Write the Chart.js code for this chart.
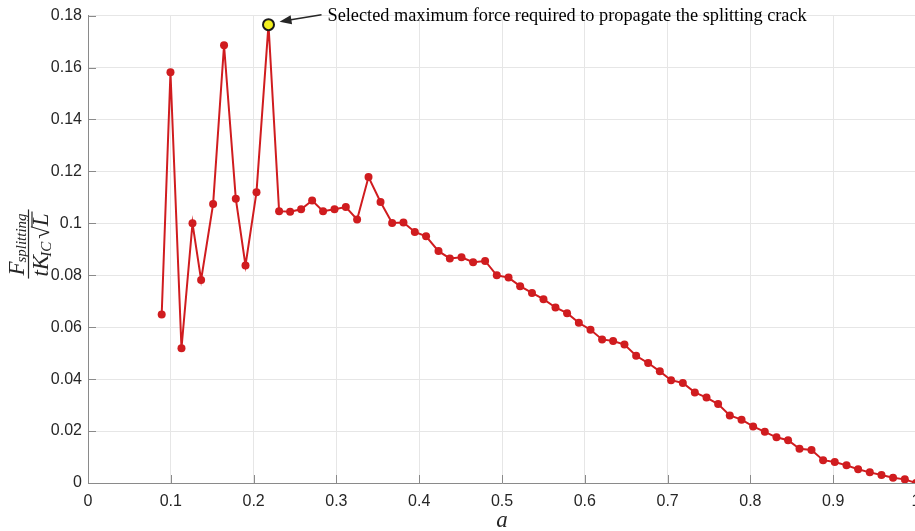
<!DOCTYPE html>
<html>
<head>
<meta charset="utf-8">
<script src="https://cdn.jsdelivr.net/npm/chart.js@4.4.1/dist/chart.umd.min.js"></script>
<style>
  html, body { margin: 0; padding: 0; background: #ffffff; overflow: hidden; }
  #grafico { display: block; }
</style>
</head>
<body>
<canvas id="grafico" width="930" height="531"></canvas>
<script>
// crack length ratio a
var aValues = [
    0.089, 0.0996, 0.1129, 0.1262, 0.1366, 0.1511, 0.1643, 0.1785, 0.1902, 0.2035,
    0.218, 0.2308, 0.2441, 0.2574, 0.2707, 0.2839, 0.2977, 0.3114, 0.325, 0.3388,
    0.3533, 0.3673, 0.381, 0.3947, 0.4083, 0.4233, 0.437, 0.4511, 0.4651, 0.4796,
    0.4937, 0.5079, 0.5219, 0.5362, 0.5501, 0.5646, 0.5786, 0.5928, 0.6069, 0.6209,
    0.6342, 0.6479, 0.662, 0.6765, 0.6906, 0.7042, 0.7184, 0.7329, 0.747, 0.761,
    0.7751, 0.7893, 0.8033, 0.8174, 0.8315, 0.8455, 0.8593, 0.8738, 0.8878, 0.9019,
    0.9161, 0.9301, 0.9442, 0.9583, 0.9723, 0.9865, 1.0
];

// normalised splitting force
var forceValues = [
    0.0649, 0.1582, 0.0519, 0.1000, 0.0782, 0.1074, 0.1686, 0.1095, 0.0838, 0.1120,
    0.1765, 0.1047, 0.1045, 0.1054, 0.1088, 0.1047, 0.1054, 0.1063, 0.1015, 0.1178,
    0.1082, 0.1001, 0.1003, 0.0967, 0.0950, 0.0893, 0.0865, 0.0869, 0.0850, 0.0855,
    0.0800, 0.0791, 0.0758, 0.0732, 0.0708, 0.0676, 0.0654, 0.0617, 0.0590, 0.0553,
    0.0547, 0.0533, 0.0490, 0.0462, 0.0430, 0.0396, 0.0385, 0.0349, 0.0329, 0.0304,
    0.0260, 0.0244, 0.0218, 0.0197, 0.0176, 0.0165, 0.0132, 0.0127, 0.0088, 0.0081,
    0.0068, 0.0053, 0.0041, 0.0031, 0.0020, 0.0014, 0.0000
];

var xTicks = [0, 0.1, 0.2, 0.3, 0.4, 0.5, 0.6, 0.7, 0.8, 0.9, 1];
var yTicks = [0, 0.02, 0.04, 0.06, 0.08, 0.1, 0.12, 0.14, 0.16, 0.18];

var annotationText = 'Selected maximum force required to propagate the splitting crack';
var xTitle = 'a';

var SERIF = '"Liberation Serif", "Times New Roman", serif';
var SANS = '"Liberation Sans", Arial, sans-serif';
var COR_EIXO = '#8a8a8a';
var COR_TEXTO = '#262626';

// index of the selected maximum
var idxMax = 0;
for (var i = 1; i < forceValues.length; i++) {
    if (forceValues[i] > forceValues[idxMax]) idxMax = i;
}

function formatarTick(v) {
    return String(parseFloat(Number(v).toFixed(3)));
}

var pluginExtras = {
    id: 'extras',
    afterDraw: function (chart) {
        var ctx = chart.ctx;
        var xs = chart.scales.x, ys = chart.scales.y;
        var area = chart.chartArea;

        // inward tick marks (matlab style)
        ctx.save();
        ctx.strokeStyle = COR_EIXO;
        ctx.lineWidth = 1;
        ctx.beginPath();
        xTicks.forEach(function (v) {
            var px = Math.round(xs.getPixelForValue(v)) + 0.5;
            ctx.moveTo(px, area.bottom);
            ctx.lineTo(px, area.bottom - 8);
        });
        yTicks.forEach(function (v) {
            var py = Math.round(ys.getPixelForValue(v)) + 0.5;
            ctx.moveTo(area.left, py);
            ctx.lineTo(area.left + 8, py);
        });
        ctx.stroke();
        ctx.restore();

        // arrow + annotation
        var mx = xs.getPixelForValue(aValues[idxMax]);
        var my = ys.getPixelForValue(forceValues[idxMax]);
        var hx = mx + 11, hy = my - 3;
        var tx = hx + 42, ty = hy - 7;
        ctx.save();
        ctx.strokeStyle = COR_TEXTO;
        ctx.fillStyle = COR_TEXTO;
        ctx.lineWidth = 1.5;
        var ang = Math.atan2(hy - ty, hx - tx);
        ctx.beginPath();
        ctx.moveTo(tx, ty);
        ctx.lineTo(hx - 10 * Math.cos(ang), hy - 10 * Math.sin(ang));
        ctx.stroke();
        ctx.beginPath();
        ctx.moveTo(hx, hy);
        ctx.lineTo(hx - 12 * Math.cos(ang) + 4.5 * Math.sin(ang), hy - 12 * Math.sin(ang) - 4.5 * Math.cos(ang));
        ctx.lineTo(hx - 12 * Math.cos(ang) - 4.5 * Math.sin(ang), hy - 12 * Math.sin(ang) + 4.5 * Math.cos(ang));
        ctx.closePath();
        ctx.fill();

        ctx.fillStyle = '#000000';
        ctx.font = '18.3px ' + SERIF;
        ctx.textAlign = 'left';
        ctx.textBaseline = 'alphabetic';
        ctx.fillText(annotationText, tx + 6, 21);
        ctx.restore();

        // x axis title
        ctx.save();
        ctx.fillStyle = COR_TEXTO;
        ctx.font = 'italic 23px ' + SERIF;
        ctx.textAlign = 'center';
        ctx.textBaseline = 'alphabetic';
        ctx.fillText(xTitle, xs.getPixelForValue(0.5), 527);
        ctx.restore();

        desenharRotuloY(ctx);
    }
};

function desenharRotuloY(ctx) {
    ctx.save();
    ctx.translate(28.5, 244);
    ctx.rotate(-Math.PI / 2);
    ctx.fillStyle = COR_TEXTO;
    ctx.strokeStyle = COR_TEXTO;
    ctx.textBaseline = 'alphabetic';
    ctx.textAlign = 'left';

    var fGrande = 'italic 23px ' + SERIF;
    var fPequeno = 'italic 15px ' + SERIF;
    var fReto = '23px ' + SERIF;

    // numerator
    ctx.font = fGrande;
    var wF = ctx.measureText('F').width;
    ctx.font = fPequeno;
    var wSub = ctx.measureText('splitting').width;
    var wNum = wF + wSub;

    // denominator
    ctx.font = fGrande;
    var wt = ctx.measureText('t').width;
    var wK = ctx.measureText('K').width;
    var wL = ctx.measureText('L').width;
    ctx.font = fPequeno;
    var wIC = ctx.measureText('IC').width;
    ctx.font = fReto;
    var wRad = ctx.measureText('\u221A').width;
    var wDen = wt + wK + wIC + 1 + wRad + wL + 2;

    var wBar = Math.max(wNum, wDen) + 4;

    var x0 = -wNum / 2;
    ctx.font = fGrande;
    ctx.fillText('F', x0, -5);
    ctx.font = fPequeno;
    ctx.fillText('splitting', x0 + wF - 1, -2.5);

    ctx.lineWidth = 1.2;
    ctx.beginPath();
    ctx.moveTo(-wBar / 2, 0);
    ctx.lineTo(wBar / 2, 0);
    ctx.stroke();

    var x1 = -wDen / 2;
    ctx.font = fGrande;
    ctx.fillText('t', x1, 19);
    ctx.fillText('K', x1 + wt, 19);
    ctx.font = fPequeno;
    ctx.fillText('IC', x1 + wt + wK - 2, 22);
    var xr = x1 + wt + wK + wIC + 1;
    ctx.font = fReto;
    ctx.fillText('\u221A', xr, 20);
    ctx.font = fGrande;
    ctx.fillText('L', xr + wRad, 19);
    ctx.beginPath();
    ctx.moveTo(xr + wRad - 1, 3.5);
    ctx.lineTo(xr + wRad + wL + 2, 3.5);
    ctx.stroke();

    ctx.restore();
}

var pontos = aValues.map(function (a, i) { return { x: a, y: forceValues[i] }; });

var grafico = new Chart(document.getElementById('grafico').getContext('2d'), {
    type: 'line',
    data: {
        datasets: [
            {
                // selected maximum
                data: [{ x: aValues[idxMax], y: forceValues[idxMax] }],
                showLine: false,
                pointRadius: 5.5,
                pointBackgroundColor: '#f2ef1f',
                pointBorderColor: '#1a1a1a',
                pointBorderWidth: 2,
                order: 0
            },
            {
                data: pontos,
                borderColor: '#d01c1f',
                borderWidth: 2,
                pointRadius: 4,
                pointBackgroundColor: '#d01c1f',
                pointBorderColor: '#d01c1f',
                pointBorderWidth: 0,
                tension: 0,
                order: 1
            }
        ]
    },
    options: {
        responsive: false,
        devicePixelRatio: 1,
        animation: false,
        events: [],
        layout: { padding: { top: 15, left: 0, right: 14, bottom: 0 } },
        plugins: {
            legend: { display: false },
            tooltip: { enabled: false },
            title: { display: false }
        },
        scales: {
            x: {
                type: 'linear',
                min: 0,
                max: 1,
                afterBuildTicks: function (scale) {
                    scale.ticks = xTicks.map(function (v) { return { value: v }; });
                },
                afterFit: function (scale) { scale.height = 48; },
                grid: { color: '#e6e6e6', drawTicks: false },
                border: { display: true, color: COR_EIXO, width: 1 },
                ticks: {
                    padding: 9,
                    color: COR_TEXTO,
                    font: { family: SANS, size: 16 },
                    maxRotation: 0,
                    autoSkip: false,
                    callback: formatarTick
                }
            },
            y: {
                type: 'linear',
                min: 0,
                max: 0.18,
                afterBuildTicks: function (scale) {
                    scale.ticks = yTicks.map(function (v) { return { value: v }; });
                },
                afterFit: function (scale) { scale.width = 88; },
                grid: { color: '#e6e6e6', drawTicks: false },
                border: { display: true, color: COR_EIXO, width: 1 },
                ticks: {
                    padding: 6,
                    color: COR_TEXTO,
                    font: { family: SANS, size: 16 },
                    autoSkip: false,
                    callback: formatarTick
                }
            }
        }
    },
    plugins: [pluginExtras]
});
</script>
</body>
</html>
